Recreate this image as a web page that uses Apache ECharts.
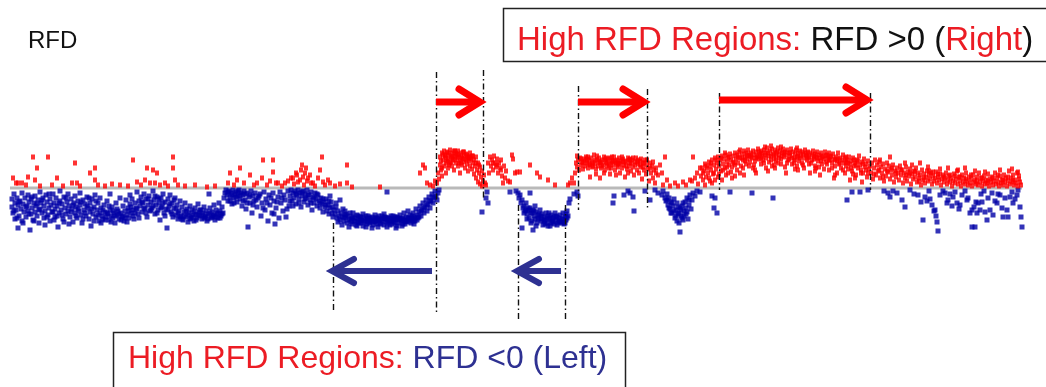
<!DOCTYPE html>
<html>
<head>
<meta charset="utf-8">
<script src="https://cdn.jsdelivr.net/npm/echarts@6/dist/echarts.min.js"></script>
<style>
  html, body { margin: 0; padding: 0; background: #ffffff; }
  #chart { width: 1046px; height: 387px; }
</style>
</head>
<body>
<div id="chart"></div>
<script>
// Replication fork directionality (RFD) along a chromosome segment.
// Each entry is [position, RFD]; RFD < 0 = leftward forks, RFD > 0 = rightward forks.

const blueWestA = [[12,-0.22],[12,-0.38],[13,-0.5],[14,-0.12],[15,-0.3],[15,-0.62],[16,-0.44],[17,-0.2],[18,-0.8],[18,-0.34],[19,-0.56],[20,-0.26],[21,-0.42],[22,-0.1],[22,-0.66],[23,-0.32],[24,-0.48],[25,-0.2],[26,-0.58],[27,-0.36],[28,-0.14],[28,-0.46],[29,-0.28],[30,-0.84],[31,-0.52],[31,-0.22],[32,-0.4],[33,-0.64],[34,-0.3],[35,-0.16],[35,-0.48],[36,-0.36],[37,-0.56],[38,-0.24],[39,-0.7],[40,-0.42],[40,-0.08],[41,-0.3],[42,-0.5],[43,-0.2],[44,-0.6],[44,-0.36],[45,-0.46],[46,-0.14],[47,-0.28],[48,-0.54],[49,-0.4],[50,-0.22],[50,-0.66],[51,-0.34],[52,-0.48],[53,-0.12],[54,-0.3],[55,-0.58],[55,-0.42],[56,-0.2],[57,-0.36],[58,-0.78],[59,-0.5],[60,-0.26],[60,-0.06],[61,-0.44],[62,-0.32],[63,-0.62],[64,-0.18],[65,-0.4],[66,-0.52],[67,-0.28],[68,-0.46],[68,-0.12],[69,-0.36],[70,-0.58],[71,-0.22],[72,-0.42],[73,-0.68],[74,-0.3],[75,-0.5],[75,-0.16],[76,-0.38],[77,-0.6],[78,-0.26],[79,-0.46],[80,-0.1],[80,-0.34],[81,-0.54],[82,-0.7],[83,-0.24],[84,-0.44],[85,-0.32],[86,-0.56],[87,-0.18],[88,-0.4],[89,-0.62],[90,-0.3],[90,-0.48],[91,-0.76],[92,-0.22],[93,-0.52],[94,-0.38],[95,-0.14],[96,-0.58],[97,-0.44],[98,-0.3],[99,-0.66],[100,-0.5],[100,-0.2],[101,-0.4],[102,-0.56],[103,-0.62],[104,-0.34],[105,-0.48],[106,-0.58],[107,-0.26],[108,-0.52],[109,-0.64],[110,-0.44],[110,-0.12],[111,-0.56],[112,-0.38],[113,-0.6],[114,-0.5],[115,-0.7],[116,-0.3],[117,-0.54],[118,-0.46],[119,-0.62],[120,-0.2]];

const blueWestB = [[121,-0.5],[122,-0.58],[123,-0.36],[124,-0.66],[125,-0.46],[126,-0.24],[127,-0.54],[128,-0.4],[129,-0.6],[130,-0.14],[130,-0.32],[131,-0.5],[132,-0.22],[133,-0.44],[134,-0.62],[135,-0.3],[136,-0.4],[137,-0.08],[138,-0.52],[139,-0.26],[140,-0.36],[141,-0.18],[142,-0.48],[143,-0.3],[144,-0.12],[145,-0.42],[146,-0.22],[147,-0.58],[148,-0.34],[149,-0.16],[150,-0.46],[151,-0.28],[152,-0.4],[153,-0.06],[154,-0.24],[155,-0.52],[156,-0.34],[157,-0.18],[158,-0.44],[159,-0.3],[160,-0.64],[161,-0.2],[162,-0.38],[163,-0.12],[164,-0.5],[165,-0.28],[166,-0.42],[167,-0.8],[168,-0.22],[169,-0.36],[170,-0.14],[171,-0.48],[172,-0.3],[173,-0.58],[174,-0.4],[175,-0.2],[176,-0.54],[177,-0.34],[178,-0.62],[179,-0.46],[180,-0.26],[181,-0.56],[182,-0.38],[183,-0.64],[184,-0.48],[185,-0.3],[186,-0.58],[187,-0.42],[188,-0.68],[189,-0.5],[190,-0.36],[191,-0.6],[192,-0.44],[193,-0.54],[194,-0.66],[195,-0.4],[196,-0.52],[197,-0.6],[198,-0.32],[199,-0.48],[200,-0.56],[201,-0.44],[202,-0.62],[203,-0.5],[204,-0.38],[205,-0.58],[206,-0.46],[207,-0.66],[208,-0.52],[209,-0.12],[210,-0.4],[211,-0.6],[212,-0.48],[213,-0.56],[214,-0.34],[215,-0.64],[216,-0.44],[217,-0.52],[218,-0.6],[219,-0.3],[220,-0.46],[221,-0.56],[222,-0.38],[223,-0.5],[224,-0.2],[225,-0.1]];

const blueWestC = [[226,-0.04],[227,-0.14],[228,-0.26],[229,-0.06],[230,-0.18],[231,-0.1],[232,-0.32],[233,-0.04],[234,-0.2],[235,-0.12],[236,-0.08],[237,-0.28],[238,-0.16],[239,-0.04],[240,-0.22],[241,-0.1],[242,-0.36],[243,-0.14],[244,-0.06],[245,-0.24],[246,-0.42],[247,-0.1],[248,-0.78],[249,-0.18],[250,-0.3],[251,-0.06],[252,-0.5],[253,-0.16],[254,-0.26],[255,-0.1],[257,-0.38],[258,-0.2],[260,-0.12],[261,-0.56],[262,-0.3],[264,-0.08],[265,-0.44],[266,-0.22],[268,-0.66],[269,-0.14],[270,-0.34],[272,-0.5],[273,-0.1],[274,-0.26],[275,-0.72],[276,-0.4],[278,-0.18],[279,-0.6],[280,-0.08],[281,-0.3],[283,-0.46],[284,-0.14],[285,-0.24],[286,-0.58],[288,-0.06],[289,-0.36],[290,-0.16],[291,-0.04],[292,-0.26],[293,-0.1],[294,-0.2],[295,-0.06],[296,-0.32],[297,-0.14],[298,-0.04],[299,-0.22],[300,-0.1],[301,-0.38],[302,-0.16],[303,-0.06],[304,-0.28],[305,-0.12],[306,-0.2],[307,-0.04],[308,-0.34],[309,-0.14],[310,-0.24],[311,-0.08],[312,-0.44],[313,-0.18],[314,-0.3],[315,-0.1],[316,-0.22],[317,-0.36],[318,-0.14],[319,-0.26],[320,-0.4],[321,-0.2],[322,-0.32],[323,-0.48],[324,-0.28],[325,-0.38],[326,-0.22],[327,-0.46],[328,-0.34],[329,-0.52],[330,-0.4],[330,-0.16],[331,-0.28],[332,-0.5],[333,-0.58],[334,-0.44]];

const blueWestExtra = [[14,-0.46],[17,-0.6],[19,-0.28],[23,-0.7],[26,-0.38],[29,-0.52],[32,-0.18],[34,-0.66],[37,-0.32],[39,-0.44],[42,-0.24],[45,-0.74],[47,-0.58],[49,-0.12],[53,-0.48],[54,-0.64],[57,-0.56],[59,-0.3],[62,-0.54],[64,-0.68],[66,-0.2],[69,-0.72],[71,-0.48],[73,-0.34],[76,-0.56],[78,-0.42],[81,-0.28],[83,-0.62],[85,-0.5],[87,-0.36],[89,-0.2],[92,-0.42],[94,-0.66],[96,-0.26],[98,-0.54],[101,-0.7],[103,-0.44],[105,-0.64],[107,-0.5],[109,-0.36],[111,-0.68],[113,-0.46],[115,-0.56],[117,-0.42],[119,-0.52],[121,-0.64],[123,-0.56],[125,-0.6],[127,-0.68],[129,-0.46],[131,-0.38],[133,-0.56],[135,-0.5],[137,-0.42],[139,-0.6],[142,-0.28],[144,-0.4],[146,-0.5],[148,-0.22],[151,-0.44],[153,-0.36],[155,-0.16],[157,-0.5],[159,-0.22],[161,-0.4],[163,-0.3],[165,-0.56],[168,-0.44],[170,-0.32],[172,-0.52],[174,-0.24],[176,-0.42],[178,-0.5],[180,-0.58],[182,-0.62],[184,-0.56],[186,-0.46],[188,-0.54],[190,-0.62],[192,-0.58],[194,-0.48],[196,-0.64],[198,-0.54],[200,-0.44],[202,-0.54],[204,-0.6],[206,-0.56],[208,-0.62],[210,-0.5],[212,-0.58],[214,-0.54],[216,-0.58],[218,-0.5],[220,-0.6],[222,-0.52],[228,-0.08],[230,-0.26],[232,-0.14],[234,-0.3],[236,-0.18],[238,-0.06],[240,-0.14],[243,-0.26],[245,-0.12],[247,-0.3],[250,-0.14],[253,-0.34],[256,-0.24],[259,-0.16],[263,-0.4],[267,-0.3],[271,-0.2],[274,-0.52],[277,-0.28],[282,-0.2],[287,-0.42],[290,-0.26],[293,-0.36],[296,-0.12],[299,-0.3],[302,-0.08],[305,-0.22],[308,-0.14],[311,-0.3],[314,-0.2],[317,-0.12],[320,-0.3],[323,-0.22],[326,-0.34],[329,-0.26],[332,-0.38]];

const blueTroughA = [[335,-0.52],[336,-0.38],[336,-0.3],[337,-0.6],[338,-0.46],[339,-0.56],[340,-0.64],[340,-0.24],[341,-0.5],[342,-0.58],[343,-0.42],[344,-0.66],[345,-0.54],[346,-0.6],[346,-0.52],[347,-0.7],[348,-0.56],[349,-0.64],[350,-0.5],[351,-0.62],[352,-0.72],[352,-0.6],[353,-0.58],[354,-0.66],[355,-0.6],[355,-0.66],[356,-0.74],[357,-0.54],[358,-0.68],[358,-0.56],[359,-0.62],[360,-0.58],[361,-0.7],[361,-0.58],[362,-0.64],[363,-0.76],[364,-0.6],[364,-0.66],[365,-0.68],[366,-0.56],[367,-0.72],[367,-0.62],[368,-0.64],[369,-0.6],[370,-0.7],[370,-0.6],[371,-0.66],[372,-0.58],[373,-0.74],[373,-0.66],[374,-0.62],[375,-0.68],[376,-0.6],[376,-0.66],[377,-0.72],[378,-0.64],[379,-0.56],[379,-0.64],[380,-0.7],[381,-0.62],[382,-0.66],[382,-0.56],[383,-0.6],[384,-0.74],[385,-0.58],[385,-0.62],[386,-0.68],[387,-0.08],[387,-0.64],[388,-0.7],[388,-0.6],[389,-0.6],[390,-0.66],[391,-0.56],[391,-0.66],[392,-0.72],[393,-0.62],[394,-0.68],[394,-0.62],[395,-0.58],[396,-0.64],[397,-0.76],[397,-0.58],[398,-0.6],[399,-0.7],[400,-0.54],[400,-0.62],[401,-0.66],[402,-0.62],[403,-0.72],[403,-0.6],[404,-0.5],[405,-0.64],[406,-0.58],[406,-0.66],[407,-0.68],[408,-0.46],[409,-0.6],[409,-0.66],[410,-0.54],[411,-0.7],[412,-0.62],[412,-0.56],[413,-0.5],[414,-0.58],[415,-0.66],[415,-0.6],[416,-0.42],[417,-0.54],[418,-0.6],[419,-0.48],[420,-0.36],[421,-0.56],[422,-0.44],[423,-0.3],[424,-0.5],[425,-0.38],[426,-0.24],[427,-0.46],[428,-0.32],[429,-0.18],[430,-0.4],[431,-0.26],[432,-0.12],[433,-0.3],[434,-0.2],[435,-0.06],[436,-0.16],[437,-0.24],[438,-0.1],[439,-0.04]];

const blueTroughAExtra = [[338,-0.68],[342,-0.74],[345,-0.46],[349,-0.78],[353,-0.5],[357,-0.76],[360,-0.66],[363,-0.52],[366,-0.78],[369,-0.68],[372,-0.8],[375,-0.54],[378,-0.78],[381,-0.72],[384,-0.52],[387,-0.78],[390,-0.74],[393,-0.56],[396,-0.8],[399,-0.62],[402,-0.76],[405,-0.72],[408,-0.6],[411,-0.62],[414,-0.72],[417,-0.64],[419,-0.58],[421,-0.46],[424,-0.4],[427,-0.34],[430,-0.26],[433,-0.18],[344,-0.58],[351,-0.68],[359,-0.7],[368,-0.56],[377,-0.6],[386,-0.6],[395,-0.7],[404,-0.66],[413,-0.66]];

const blueTroughB = [[516,-0.06],[518,-0.1],[519,-0.2],[520,-0.14],[521,-0.3],[522,-0.8],[522,-0.24],[523,-0.4],[524,-0.36],[525,-0.46],[526,-0.3],[526,-0.44],[527,-0.52],[528,-0.4],[529,-0.6],[530,-0.4],[530,-0.1],[531,-0.5],[532,-0.66],[532,-0.5],[533,-0.84],[533,-0.44],[534,-0.56],[535,-0.62],[535,-0.36],[536,-0.48],[537,-0.7],[538,-0.54],[538,-0.62],[539,-0.6],[540,-0.44],[541,-0.66],[541,-0.56],[542,-0.52],[543,-0.74],[544,-0.58],[544,-0.66],[545,-0.64],[546,-0.5],[547,-0.7],[548,-0.56],[548,-0.76],[549,-0.62],[550,-0.76],[550,-0.6],[551,-0.54],[552,-0.66],[553,-0.6],[553,-0.68],[554,-0.72],[555,-0.5],[556,-0.64],[556,-0.56],[557,-0.58],[558,-0.7],[559,-0.6],[559,-0.66],[560,-0.54],[561,-0.68],[562,-0.62],[562,-0.7],[563,-0.5],[564,-0.72],[565,-0.58],[566,-0.64],[566,-0.52],[567,-0.46],[568,-0.56],[569,-0.3],[570,-0.22],[524,-0.5],[527,-0.62],[529,-0.44],[531,-0.7],[534,-0.46],[536,-0.76],[539,-0.52],[542,-0.62],[545,-0.72],[547,-0.6],[549,-0.5],[551,-0.7],[554,-0.58],[557,-0.74],[560,-0.66],[563,-0.62],[565,-0.7],[567,-0.6]];

const blueScattered = [[482,-0.48],[486,-0.2],[487,-0.08],[488,-0.3],[510,-0.08],[574,-0.12],[577,-0.08],[578,-0.16],[613,-0.3],[614,-0.16],[624,-0.14],[628,-0.06],[630,-0.1],[633,-0.18],[634,-0.46],[645,-0.06],[650,-0.24]];

const blueDip = [[655,-0.04],[658,-0.1],[662,-0.14],[663,-0.06],[665,-0.2],[666,-0.26],[667,-0.12],[668,-0.34],[669,-0.2],[670,-0.42],[671,-0.28],[672,-0.5],[673,-0.36],[674,-0.22],[675,-0.6],[676,-0.44],[677,-0.3],[678,-0.52],[679,-0.7],[680,-0.4],[680,-0.88],[681,-0.56],[682,-0.36],[683,-0.64],[684,-0.46],[685,-0.28],[686,-0.52],[687,-0.2],[688,-0.62],[689,-0.34],[690,-0.14],[691,-0.42],[692,-0.24],[693,-0.1],[695,-0.16],[697,-0.06],[700,-0.08],[667,-0.24],[669,-0.4],[671,-0.5],[672,-0.3],[674,-0.46],[676,-0.56],[677,-0.66],[678,-0.38],[679,-0.5],[681,-0.44],[682,-0.6],[683,-0.3],[684,-0.56],[686,-0.4],[687,-0.48],[689,-0.24]];

const blueEast = [[712,-0.16],[714,-0.4],[715,-0.2],[717,-0.5],[730,-0.08],[752,-0.1],[773,-0.2],[847,-0.24],[852,-0.08],[860,-0.08],[868,-0.04],[884,-0.06],[888,-0.1],[890,-0.18],[893,-0.06],[897,-0.1],[902,-0.24],[905,-0.38],[910,-0.04],[914,-0.12],[918,-0.14],[921,-0.28],[923,-0.64],[925,-0.18],[927,-0.26],[929,-0.06],[930,-0.22],[932,-0.34],[934,-0.46],[935,-0.44],[936,-0.56],[937,-0.68],[938,-0.86],[940,-0.14],[943,-0.06],[945,-0.1],[947,-0.3],[948,-0.24],[950,-0.12],[952,-0.36],[953,-0.18],[955,-0.08],[957,-0.3],[959,-0.42],[960,-0.34],[962,-0.14],[965,-0.06],[967,-0.24],[968,-0.2],[970,-0.5],[972,-0.44],[972,-0.78],[974,-0.38],[975,-0.78],[976,-0.28],[977,-0.5],[978,-0.3],[980,-0.44],[981,-0.12],[982,-0.28],[984,-0.06],[985,-0.48],[987,-0.64],[988,-0.2],[990,-0.44],[992,-0.1],[993,-0.54],[995,-0.26],[997,-0.3],[998,-0.12],[1000,-0.14],[1002,-0.4],[1003,-0.58],[1005,-0.2],[1007,-0.44],[1008,-0.58],[1010,-0.18],[1012,-0.08],[1013,-0.3],[1015,-0.22],[1017,-0.14],[1018,-0.04],[1020,-0.38],[1021,-0.58],[1022,-0.78]];

const redWest = [[13,0.2],[16,0.1],[18,0.1],[22,0.1],[26,0.06],[28,0.22],[33,0.62],[35,0.16],[37,0.4],[40,0.04],[48,0.62],[52,0.06],[57,0.2],[63,0.04],[72,0.1],[75,0.5],[77,0.1],[80,0.04],[90,0.3],[95,0.4],[95,0.16],[98,0.06],[105,0.04],[112,0.08],[120,0.06],[128,0.04],[133,0.56],[137,0.12],[141,0.06],[145,0.16],[147,0.4],[150,0.1],[153,0.36],[155,0.1],[157,0.3],[160,0.06],[165,0.1],[168,0.04],[173,0.62],[173,0.4],[175,0.16],[178,0.06],[185,0.04],[195,0.06],[207,0.02],[215,0.04],[228,0.1],[230,0.3],[234,0.06],[237,0.16],[240,0.4],[244,0.1],[250,0.26],[254,0.06],[257,0.1],[262,0.2],[263,0.56],[267,0.06],[270,0.14],[273,0.56],[273,0.32],[276,0.1],[278,0.1],[282,0.04],[285,0.1],[288,0.14],[291,0.2],[293,0.2],[294,0.08],[296,0.3],[297,0.26],[298,0.12],[300,0.16],[301,0.36],[302,0.46],[303,0.22],[304,0.06],[305,0.3],[306,0.4],[307,0.14],[308,0.2],[310,0.26],[311,0.1],[313,0.1],[315,0.04],[318,0.2],[320,0.36],[322,0.62],[323,0.12],[325,0.06],[328,0.16],[330,0.1]];

const redTroughA = [[335,0.04],[340,0.08],[347,0.46],[347,0.1],[352,0.02],[380,0.02],[420,0.3],[423,0.46],[425,0.4],[427,0.1],[430,0.06],[433,0.04],[435,0.14]];

const redPeakA = [[437,0.1],[438,0.3],[439,0.18],[440,0.46],[440,0.62],[441,0.36],[442,0.7],[442,0.24],[443,0.56],[444,0.44],[444,0.74],[445,0.64],[445,0.66],[446,0.5],[446,0.3],[447,0.72],[447,0.54],[448,0.58],[448,0.4],[449,0.66],[450,0.76],[450,0.5],[451,0.62],[451,0.52],[452,0.44],[452,0.7],[453,0.56],[453,0.64],[454,0.74],[454,0.36],[455,0.64],[456,0.5],[456,0.7],[457,0.6],[457,0.68],[458,0.44],[458,0.74],[459,0.66],[459,0.5],[460,0.54],[460,0.3],[461,0.7],[461,0.62],[462,0.6],[462,0.46],[463,0.72],[463,0.58],[464,0.52],[464,0.64],[465,0.4],[466,0.68],[466,0.56],[467,0.48],[467,0.66],[468,0.62],[468,0.34],[469,0.54],[469,0.62],[470,0.7],[470,0.44],[471,0.58],[472,0.38],[472,0.64],[473,0.5],[474,0.28],[474,0.56],[475,0.44],[476,0.62],[476,0.2],[477,0.36],[478,0.5],[478,0.12],[479,0.3],[480,0.42],[480,0.08],[481,0.22],[482,0.34],[482,0.04],[483,0.14],[484,0.26],[485,0.1],[486,0.06],[441,0.54],[443,0.66],[446,0.6],[449,0.46],[452,0.6],[455,0.56],[458,0.62],[461,0.5],[464,0.72],[467,0.58],[470,0.6],[473,0.64],[476,0.5],[479,0.46],[442,0.4],[448,0.7],[455,0.74]];

const redShoulder = [[488,0.5],[489,0.3],[490,0.62],[491,0.44],[492,0.56],[493,0.36],[493,0.5],[494,0.64],[495,0.5],[496,0.42],[497,0.58],[497,0.46],[498,0.3],[499,0.5],[500,0.4],[501,0.56],[501,0.36],[502,0.24],[503,0.1],[504,0.44],[505,0.2],[506,0.34],[508,0.14],[510,0.12],[512,0.66],[513,0.58],[515,0.3],[517,0.32],[520,0.32],[530,0.46],[537,0.3],[540,0.22],[548,0.16],[555,0.06]];

const redPeakB = [[568,0.06],[570,0.1],[572,0.2],[574,0.1],[575,0.3],[576,0.5],[577,0.42],[578,0.56],[579,0.36],[580,0.6],[581,0.46],[582,0.52],[583,0.38],[583,0.5],[584,0.58],[585,0.44],[586,0.62],[587,0.5],[587,0.58],[588,0.4],[589,0.56],[589,0.48],[590,0.22],[590,0.46],[591,0.6],[592,0.42],[593,0.52],[593,0.44],[594,0.66],[595,0.48],[595,0.56],[596,0.38],[596,0.28],[597,0.56],[598,0.44],[599,0.6],[599,0.52],[600,0.5],[600,0.2],[601,0.4],[601,0.52],[602,0.56],[603,0.46],[604,0.62],[604,0.3],[605,0.36],[605,0.56],[606,0.52],[607,0.44],[607,0.5],[608,0.58],[609,0.48],[610,0.28],[610,0.6],[611,0.4],[611,0.5],[612,0.54],[613,0.46],[613,0.54],[614,0.62],[615,0.36],[616,0.5],[616,0.26],[617,0.56],[617,0.46],[618,0.42],[619,0.6],[619,0.5],[620,0.3],[620,0.48],[621,0.54],[622,0.4],[623,0.58],[623,0.52],[624,0.46],[625,0.22],[625,0.54],[626,0.52],[627,0.38],[628,0.6],[628,0.3],[629,0.44],[629,0.56],[630,0.5],[631,0.34],[631,0.5],[632,0.56],[633,0.42],[634,0.26],[635,0.52],[635,0.46],[636,0.6],[637,0.36],[637,0.52],[638,0.48],[639,0.3],[640,0.54],[641,0.42],[641,0.58],[642,0.18],[643,0.5],[643,0.42],[644,0.36],[645,0.56],[646,0.28],[647,0.46],[648,0.38],[649,0.14],[650,0.5],[651,0.3],[652,0.44],[653,0.2],[654,0.36],[655,0.1],[656,0.4],[658,0.26],[660,0.46],[662,0.3],[663,0.06],[665,0.62],[667,0.16],[670,0.04],[577,0.64],[581,0.58],[585,0.54],[588,0.62],[592,0.5],[597,0.64],[602,0.44],[606,0.6],[609,0.4],[612,0.62],[615,0.54],[618,0.5],[622,0.62],[626,0.44],[630,0.58],[633,0.6],[638,0.56],[640,0.46],[644,0.5],[647,0.56],[650,0.4],[653,0.52],[656,0.3]];

const redValley = [[675,0.1],[678,0.04],[683,0.12],[686,0.06],[690,0.16],[692,0.14],[693,0.62],[695,0.2],[697,0.3],[698,0.08],[700,0.4]];

const redArc = [[701,0.24],[702,0.4],[703,0.16],[704,0.34],[705,0.48],[705,0.06],[706,0.22],[707,0.4],[708,0.3],[709,0.52],[710,0.14],[710,0.44],[711,0.36],[712,0.56],[712,0.1],[713,0.28],[714,0.46],[715,0.6],[716,0.38],[717,0.5],[718,0.22],[718,0.62],[719,0.44],[720,0.56],[721,0.34],[722,0.64],[722,0.16],[723,0.48],[724,0.58],[725,0.4],[726,0.66],[726,0.26],[727,0.52],[728,0.3],[728,0.6],[729,0.46],[730,0.68],[731,0.56],[732,0.42],[732,0.2],[733,0.64],[734,0.5],[735,0.7],[736,0.58],[737,0.36],[737,0.66],[738,0.5],[739,0.72],[740,0.6],[740,0.3],[741,0.44],[742,0.68],[742,0.6],[743,0.56],[744,0.74],[744,0.26],[745,0.62],[746,0.48],[746,0.7],[747,0.58],[748,0.76],[749,0.64],[750,0.52],[750,0.66],[751,0.7],[752,0.6],[753,0.4],[753,0.74],[754,0.66],[755,0.54],[756,0.72],[756,0.3],[757,0.62],[758,0.78],[758,0.64],[759,0.58],[760,0.68],[761,0.48],[761,0.74],[762,0.64],[762,0.7],[763,0.56],[764,0.76],[765,0.66],[766,0.6],[766,0.7],[767,0.8],[768,0.7],[768,0.34],[769,0.52],[770,0.74],[771,0.64],[772,0.44],[772,0.78],[773,0.68],[774,0.58],[774,0.66],[775,0.76],[776,0.62],[776,0.7],[777,0.72],[778,0.5],[778,0.8],[779,0.66],[780,0.74],[781,0.58],[782,0.7],[782,0.64],[783,0.78],[784,0.62],[785,0.42],[785,0.72],[786,0.66],[786,0.3],[787,0.76],[788,0.56],[789,0.7],[790,0.64],[790,0.7],[791,0.78],[792,0.6],[793,0.72],[794,0.5],[794,0.6],[795,0.68],[796,0.76],[797,0.62],[798,0.7],[798,0.36],[798,0.64],[799,0.54],[800,0.74],[801,0.64],[802,0.72],[803,0.46],[803,0.68],[804,0.6],[805,0.76],[806,0.66],[806,0.7],[807,0.56],[808,0.72],[808,0.6],[809,0.62],[810,0.7],[810,0.3],[811,0.5],[812,0.66],[813,0.74],[814,0.58],[814,0.64],[815,0.68],[816,0.4],[816,0.62],[817,0.72],[818,0.54],[819,0.66],[820,0.6],[820,0.26],[821,0.7],[822,0.48],[822,0.62],[823,0.64],[824,0.58],[825,0.72],[826,0.52],[826,0.64],[827,0.66],[828,0.6],[829,0.36],[829,0.7],[830,0.56],[830,0.62],[831,0.64],[832,0.5],[833,0.68],[834,0.58],[834,0.2],[835,0.44],[836,0.62],[837,0.54],[838,0.7],[838,0.58],[839,0.48],[840,0.6],[841,0.4],[842,0.56],[843,0.66],[844,0.5],[845,0.3],[845,0.6],[846,0.44],[846,0.52],[847,0.56],[848,0.38],[849,0.62],[850,0.48],[850,0.16],[851,0.54],[852,0.34],[853,0.6],[854,0.44],[854,0.56],[855,0.5],[856,0.26],[857,0.56],[858,0.4],[859,0.64],[860,0.46],[861,0.36],[862,0.52],[862,0.12],[863,0.3],[864,0.58],[865,0.42],[866,0.48],[867,0.22],[868,0.54],[869,0.38],[870,0.44]];

const redArcExtra = [[703,0.3],[706,0.44],[709,0.2],[711,0.5],[714,0.3],[716,0.56],[719,0.28],[721,0.6],[723,0.36],[725,0.7],[727,0.42],[729,0.62],[731,0.32],[733,0.52],[735,0.46],[738,0.62],[740,0.76],[743,0.4],[745,0.54],[747,0.66],[749,0.44],[751,0.62],[754,0.46],[756,0.6],[759,0.72],[761,0.6],[764,0.5],[766,0.4],[769,0.64],[771,0.56],[774,0.46],[776,0.54],[779,0.6],[781,0.48],[784,0.7],[787,0.5],[789,0.58],[792,0.48],[795,0.56],[797,0.44],[800,0.6],[802,0.5],[804,0.4],[807,0.64],[809,0.48],[812,0.56],[815,0.44],[817,0.6],[819,0.42],[821,0.54],[824,0.38],[827,0.48],[829,0.56],[832,0.4],[835,0.56],[837,0.3],[840,0.5],[843,0.36],[846,0.62],[848,0.5],[851,0.4],[853,0.28],[856,0.46],[858,0.54],[861,0.3],[863,0.48],[866,0.36],[868,0.3],[715,0.16],[735,0.24],[755,0.36],[775,0.4],[795,0.38],[815,0.34],[835,0.26],[855,0.2],[765,0.82],[771,0.84],[781,0.82],[797,0.8]];

const redEast = [[871,0.3],[872,0.5],[873,0.18],[874,0.4],[875,0.56],[876,0.26],[877,0.46],[878,0.34],[879,0.52],[880,0.2],[880,0.56],[881,0.42],[882,0.3],[883,0.48],[884,0.14],[885,0.38],[886,0.24],[887,0.5],[888,0.32],[889,0.44],[890,0.18],[890,0.62],[891,0.36],[892,0.26],[893,0.46],[894,0.12],[895,0.34],[896,0.22],[897,0.4],[898,0.3],[899,0.16],[900,0.44],[901,0.26],[902,0.36],[903,0.1],[904,0.3],[905,0.2],[905,0.5],[906,0.42],[907,0.14],[908,0.32],[909,0.24],[910,0.38],[911,0.08],[912,0.28],[912,0.46],[913,0.18],[914,0.34],[915,0.22],[916,0.4],[917,0.12],[918,0.3],[919,0.2],[920,0.26],[920,0.5],[921,0.06],[922,0.36],[923,0.16],[924,0.28],[925,0.1],[926,0.22],[927,0.34],[928,0.14],[928,0.42],[929,0.26],[930,0.18],[931,0.3],[932,0.08],[933,0.24],[934,0.14],[935,0.2],[936,0.32],[937,0.1],[938,0.22],[939,0.16],[940,0.28],[940,0.38],[941,0.06],[942,0.18],[943,0.26],[944,0.12],[945,0.2],[946,0.3],[947,0.08],[948,0.16],[948,0.4],[949,0.24],[950,0.12],[951,0.2],[952,0.04],[953,0.14],[954,0.28],[955,0.1],[956,0.18],[957,0.34],[958,0.08],[958,0.36],[959,0.22],[960,0.14],[961,0.04],[962,0.26],[963,0.12],[964,0.2],[965,0.08],[965,0.4],[966,0.3],[967,0.14],[968,0.06],[969,0.22],[970,0.1],[971,0.18],[972,0.04],[973,0.26],[974,0.12],[975,0.16],[975,0.34],[976,0.08],[977,0.22],[978,0.06],[979,0.3],[980,0.12],[981,0.2],[982,0.04],[983,0.14],[984,0.24],[985,0.08],[985,0.32],[986,0.16],[987,0.1],[988,0.28],[989,0.04],[990,0.18],[991,0.12],[992,0.22],[993,0.06],[994,0.14],[995,0.3],[996,0.08],[997,0.2],[998,0.12],[999,0.04],[1000,0.24],[1000,0.36],[1001,0.1],[1002,0.16],[1003,0.06],[1004,0.26],[1005,0.12],[1006,0.2],[1007,0.04],[1008,0.14],[1009,0.34],[1010,0.08],[1011,0.2],[1012,0.12],[1012,0.38],[1013,0.26],[1014,0.06],[1015,0.16],[1016,0.1],[1017,0.3],[1018,0.04],[1018,0.32],[1019,0.18],[1020,0.12],[1021,0.06],[874,0.28],[879,0.36],[883,0.22],[887,0.34],[892,0.4],[896,0.3],[901,0.36],[906,0.26],[910,0.3],[915,0.32],[919,0.14],[924,0.2],[929,0.34],[933,0.32],[938,0.28],[944,0.22],[950,0.26],[955,0.24],[960,0.22],[966,0.18],[971,0.26],[977,0.14],[982,0.2],[988,0.14],[993,0.2],[998,0.26],[1003,0.16],[1008,0.22],[1013,0.16],[1019,0.24]];

// High-RFD regions: [start, end] positions
const rightwardRegions = [[436, 483], [578, 647], [719, 870]];
const leftwardRegions = [[333, 436], [518, 565]];
const positionRange = [10, 1022];

const leftward = [].concat(blueWestA, blueWestB, blueWestC, blueWestExtra, blueTroughA, blueTroughAExtra, blueTroughB, blueScattered, blueDip, blueEast);
const rightward = [].concat(redWest, redTroughA, redPeakA, redShoulder, redPeakB, redValley, redArc, redArcExtra, redEast);

const RED = '#ff0000';
const TEXT_RED = '#ec1c24';
const POINT_BLUE = '#0000a6';
const TEXT_BLUE = '#2e3192';
const FONT = '"Liberation Sans", Arial, sans-serif';

const chart = echarts.init(document.getElementById('chart'));

chart.setOption({
  animation: false,
  backgroundColor: '#ffffff',
  grid: { left: 10, right: 24, top: 138, bottom: 149 },
  xAxis: { type: 'value', min: positionRange[0], max: positionRange[1], show: false },
  yAxis: { type: 'value', min: -1, max: 1, show: false },
  series: [
    {
      type: 'line', z: 1, silent: true, symbol: 'none',
      data: [[positionRange[0], 0], [positionRange[1], 0]],
      lineStyle: { color: '#b9b9b9', width: 3 }
    },
    {
      type: 'scatter', z: 2, silent: true, symbol: 'rect', symbolSize: [5, 5],
      itemStyle: { color: POINT_BLUE }, data: leftward
    },
    {
      type: 'scatter', z: 3, silent: true, symbol: 'rect', symbolSize: [4, 5],
      itemStyle: { color: RED }, data: rightward
    }
  ]
});

// Annotation layer: region guides, direction arrows and captions
const px = v => chart.convertToPixel({ xAxisIndex: 0 }, v);

const guideSpan = {
  333: [223, 313], 436: [72, 313], 483: [70, 200], 518: [205, 320], 565: [205, 320],
  578: [86, 210], 647: [89, 208], 719: [93, 190], 870: [93, 190]
};
const graphics = [];

Object.keys(guideSpan).forEach(k => {
  const x = Math.round(px(Number(k))) + 0.5;
  const s = guideSpan[k];
  graphics.push({
    type: 'line', z: 10, silent: true,
    shape: { x1: x, y1: s[0], x2: x, y2: s[1] },
    style: { stroke: '#111111', lineWidth: 1.4, lineDash: [6, 3, 1.5, 3] }
  });
});

function arrow(x0, x1, y, color, width, headDx, headDy) {
  const dir = x1 > x0 ? 1 : -1;
  graphics.push({
    type: 'line', z: 12, silent: true,
    shape: { x1: x0, y1: y, x2: x1 - dir * 2, y2: y },
    style: { stroke: color, lineWidth: width, lineCap: 'butt' }
  });
  graphics.push({
    type: 'polyline', z: 12, silent: true,
    shape: { points: [[x1 - dir * headDx, y - headDy], [x1, y], [x1 - dir * headDx, y + headDy]] },
    style: { stroke: color, lineWidth: width, lineCap: 'round', lineJoin: 'miter', fill: null }
  });
}

rightwardRegions.forEach((r, i) => {
  const y = i === 2 ? 100 : 102;
  arrow(px(r[0]), px(r[1]) - 3, y, RED, 7, 21, 13);
});
leftwardRegions.forEach(r => {
  arrow(px(r[1]) - 4, px(r[0]) - 1, 271, TEXT_BLUE, 6, 22, 12);
});

graphics.push({
  type: 'text', z: 20, silent: true,
  style: { x: 28, y: 41, text: 'RFD', font: '24px ' + FONT, fill: '#111111', verticalAlign: 'middle' }
});
graphics.push({
  type: 'rect', z: 20, silent: true,
  shape: { x: 503.5, y: 8.5, width: 600, height: 53 },
  style: { fill: '#ffffff', stroke: '#222222', lineWidth: 1.5 }
});
graphics.push({
  type: 'text', z: 21, silent: true,
  style: {
    x: 517, y: 41, verticalAlign: 'middle',
    text: '{r|High RFD Regions: }{k|RFD >0 (}{r|Right}{k|)}',
    rich: {
      r: { fill: TEXT_RED, font: '33px ' + FONT },
      k: { fill: '#111111', font: '33px ' + FONT }
    }
  }
});
graphics.push({
  type: 'rect', z: 20, silent: true,
  shape: { x: 113.5, y: 332.5, width: 512, height: 80 },
  style: { fill: '#ffffff', stroke: '#222222', lineWidth: 1.5 }
});
graphics.push({
  type: 'text', z: 21, silent: true,
  style: {
    x: 128, y: 359, verticalAlign: 'middle',
    text: '{r|High RFD Regions: }{b|RFD <0 (Left)}',
    rich: {
      r: { fill: TEXT_RED, font: '32px ' + FONT },
      b: { fill: TEXT_BLUE, font: '32px ' + FONT }
    }
  }
});

chart.setOption({ graphic: graphics });
</script>
</body>
</html>
